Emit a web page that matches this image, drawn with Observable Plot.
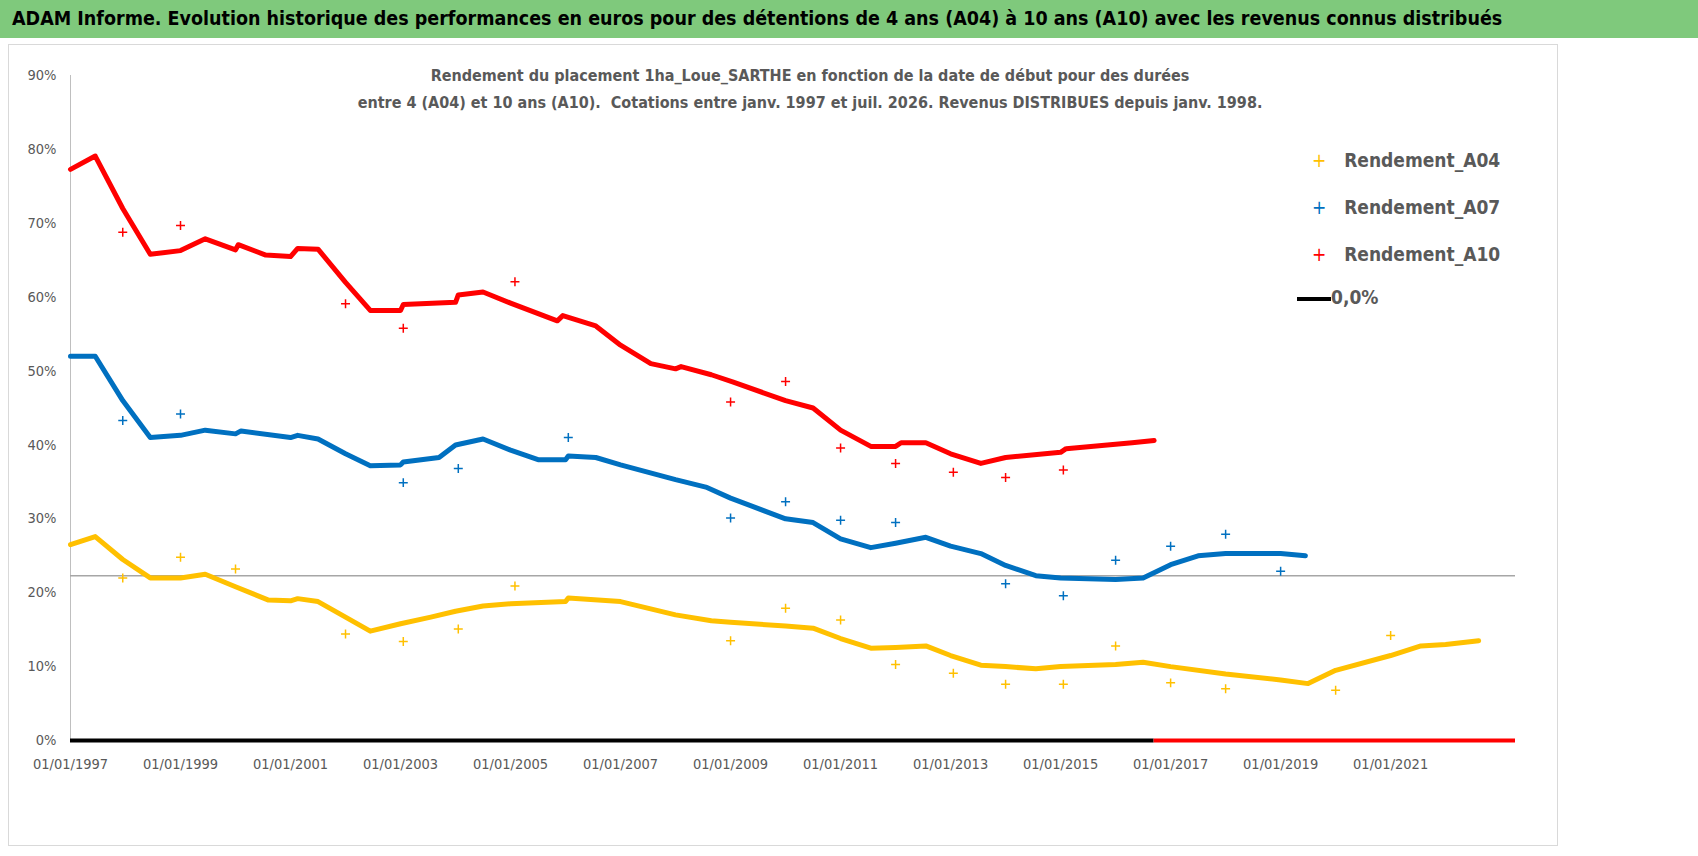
<!DOCTYPE html>
<html><head><meta charset="utf-8">
<script src="https://cdn.jsdelivr.net/npm/d3@7"></script>
<script src="https://cdn.jsdelivr.net/npm/@observablehq/plot@0.6"></script>
<style>
body{margin:0;background:#fff;font-family:"DejaVu Sans Condensed","DejaVu Sans",sans-serif;}
#wrap{position:relative;width:1698px;height:856px;overflow:hidden}
#banner{height:38px;background:#7fc97c;font-weight:bold;font-size:19.5px;line-height:38px;padding-left:12px;color:#000;white-space:nowrap}
#sub{position:absolute;left:0;width:1620px;top:62px;text-align:center;color:#595959;font-weight:bold;font-size:16px;line-height:27px}
#legend{position:absolute;left:1287px;top:135px;width:258px;height:185px;background:#fff;font-size:19px;color:#595959;font-weight:bold}
.li{position:absolute;left:25px;height:20px;line-height:20px}
#frame{position:absolute;left:8px;top:44px;width:1550px;height:802px;border:1px solid #d9d9d9;box-sizing:border-box;pointer-events:none}
</style></head><body>
<div id="wrap">
<div id="banner">ADAM Informe. Evolution historique des performances en euros pour des détentions de 4 ans (A04) à 10 ans (A10) avec les revenus connus distribués</div>
<div id="frame"></div>
<div id="chart"></div>
<div id="sub">Rendement du placement 1ha_Loue_SARTHE en fonction de la date de début pour des durées<br>entre 4 (A04) et 10 ans (A10).&nbsp; Cotations entre janv. 1997 et juil. 2026. Revenus DISTRIBUES depuis janv. 1998.</div>
<div id="legend">
<div class="li" style="top:15px"><span style="color:#ffc000;font-weight:normal">+</span>&nbsp;&nbsp; Rendement_A04</div>
<div class="li" style="top:62px"><span style="color:#0070c0;font-weight:normal">+</span>&nbsp;&nbsp; Rendement_A07</div>
<div class="li" style="top:109px"><span style="color:#ff0000;font-weight:normal">+</span>&nbsp;&nbsp; Rendement_A10</div>
<div class="li" style="top:152px;left:10px"><span style="display:inline-block;width:34px;height:4px;background:#000;vertical-align:middle"></span>0,0%</div>
</div>
</div>
<script>
const a10Years=[1997,1997.45,1997.95,1998.45,1999,1999.45,2000,2000.05,2000.55,2001,2001.13,2001.5,2002,2002.45,2003,2003.05,2004,2004.05,2004.5,2005,2005.85,2005.95,2006.55,2007,2007.55,2008,2008.1,2008.65,2009.05,2010,2010.5,2011,2011.55,2012,2012.1,2012.55,2013,2013.55,2014,2015,2015.1,2016.3,2016.7];
const a10Vals=[77.3,79.1,72,65.8,66.3,67.9,66.4,67.1,65.7,65.5,66.6,66.5,62,58.2,58.2,59,59.3,60.3,60.7,59.2,56.8,57.5,56.1,53.5,51,50.3,50.6,49.5,48.5,46,45,42,39.8,39.8,40.3,40.3,38.8,37.5,38.3,39,39.5,40.3,40.6];
const a07Years=[1997,1997.45,1997.95,1998.45,1999,1999.45,2000,2000.1,2001,2001.13,2001.5,2002,2002.45,2003,2003.05,2003.7,2004,2004.5,2005,2005.5,2006,2006.05,2006.55,2007,2008,2008.55,2009,2010,2010.5,2011,2011.55,2012,2012.55,2013,2013.55,2014,2014.55,2015,2016,2016.5,2017,2017.5,2018,2019,2019.45];
const a07Vals=[52,52,46,41,41.3,42,41.5,41.9,41,41.3,40.8,38.8,37.2,37.3,37.7,38.3,40,40.8,39.3,38,38,38.5,38.3,37.3,35.3,34.3,32.8,30,29.5,27.3,26.1,26.7,27.5,26.3,25.3,23.7,22.3,22,21.8,22,23.8,25,25.3,25.3,25];
const a04Years=[1997,1997.45,1997.95,1998.45,1999,1999.45,2000,2000.6,2001,2001.13,2001.5,2002,2002.45,2003,2003.55,2004,2004.5,2005,2006,2006.05,2007,2008,2008.65,2009,2010,2010.5,2011,2011.55,2012,2012.55,2013,2013.55,2014,2014.55,2015,2016,2016.5,2017,2018,2019,2019.5,2020,2021,2021.55,2022,2022.6];
const a04Vals=[26.5,27.6,24.5,22,22,22.5,20.8,19,18.9,19.2,18.8,16.7,14.8,15.8,16.7,17.5,18.2,18.5,18.8,19.3,18.8,17,16.2,16,15.5,15.2,13.8,12.5,12.6,12.8,11.5,10.2,10,9.7,10,10.3,10.6,10,9,8.2,7.7,9.5,11.5,12.8,13,13.5];
const outA10Years=[1997.95,1999,2002,2003.05,2005.08,2009,2010,2011,2012,2013.05,2014,2015.05];
const outA10Vals=[68.8,69.7,59.1,55.8,62.1,45.8,48.6,39.6,37.5,36.3,35.6,36.6];
const outA07Years=[1997.95,1999,2003.05,2004.05,2006.05,2009,2010,2011,2012,2014,2015.05,2016,2017,2018,2019];
const outA07Vals=[43.3,44.2,34.9,36.8,41,30.1,32.3,29.8,29.5,21.2,19.6,24.4,26.3,27.9,22.9];
const outA04Years=[1997.95,1999,2000,2002,2003.05,2004.05,2005.08,2009,2010,2011,2012,2013.05,2014,2015.05,2016,2017,2018,2020,2021];
const outA04Vals=[22,24.8,23.2,14.4,13.4,15.1,20.9,13.5,17.9,16.3,10.3,9.1,7.6,7.6,12.8,7.8,7,6.8,14.2];
const xTicks=[1997,1999,2001,2003,2005,2007,2009,2011,2013,2015,2017,2019,2021];
const yTicks=[0,10,20,30,40,50,60,70,80,90];
const refLevel=22.3;
const zeroBlack=[1997,2016.7], zeroRed=[2016.7,2023.27];

const mk=(ys,vs)=>ys.map((y,i)=>({x:y,v:vs[i]}));
const chart=Plot.plot({
  width:1698,height:818,marginLeft:70,marginRight:183,marginTop:37,marginBottom:116,
  style:{fontFamily:"DejaVu Sans Condensed, DejaVu Sans, sans-serif",fontSize:"14.5px",color:"#595959"},
  x:{domain:[1997,2023.27],ticks:xTicks,tickFormat:d=>`01/01/${d}`,label:null,tickSize:0,tickPadding:18},
  y:{domain:[0,90],ticks:yTicks,tickFormat:d=>d+"%",label:null,tickSize:0,tickPadding:14},
  marks:[
    Plot.ruleX([1997],{stroke:"#bfbfbf"}),
    Plot.ruleY([refLevel],{stroke:"#a6a6a6",strokeWidth:1.5}),
    Plot.line(mk(a04Years,a04Vals),{x:"x",y:"v",stroke:"#ffc000",strokeWidth:5}),
    Plot.line(mk(a07Years,a07Vals),{x:"x",y:"v",stroke:"#0070c0",strokeWidth:5}),
    Plot.line(mk(a10Years,a10Vals),{x:"x",y:"v",stroke:"#ff0000",strokeWidth:5}),
    Plot.dot(mk(outA04Years,outA04Vals),{x:"x",y:"v",symbol:"plus",r:3,stroke:"#ffc000"}),
    Plot.dot(mk(outA07Years,outA07Vals),{x:"x",y:"v",symbol:"plus",r:3,stroke:"#0070c0"}),
    Plot.dot(mk(outA10Years,outA10Vals),{x:"x",y:"v",symbol:"plus",r:3,stroke:"#ff0000"}),
    Plot.ruleY([0],{x1:zeroBlack[0],x2:zeroBlack[1],stroke:"#000",strokeWidth:4}),
    Plot.ruleY([0],{x1:zeroRed[0],x2:zeroRed[1],stroke:"#ff0000",strokeWidth:4})
  ]
});
document.getElementById("chart").appendChild(chart);
</script>
</body></html>
